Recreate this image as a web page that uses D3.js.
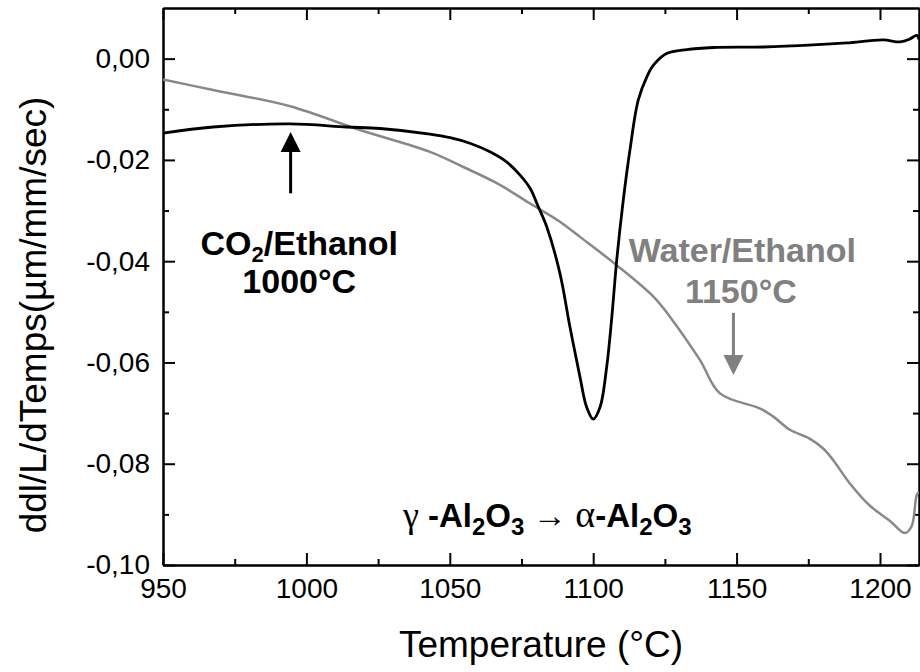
<!DOCTYPE html>
<html>
<head>
<meta charset="utf-8">
<script src="https://cdn.jsdelivr.net/npm/d3@7"></script>
<style>
  body { margin: 0; background: #fff; }
  text { font-family: "Liberation Sans", Arial, sans-serif; }
</style>
</head>
<body>
<div id="chart"></div>
<script>
// CO2/Ethanol run (black)
const co2Temp = [950, 967.5, 994.3, 1014, 1025.7, 1043.1, 1050.1, 1057, 1064, 1069.8, 1074.5, 1078, 1080.9, 1083.8, 1088.4, 1091.9, 1095.4, 1097.7, 1100, 1102.4, 1104.7, 1106.5, 1108.2, 1110.5, 1112.8, 1115.7, 1118.7, 1121, 1125.6, 1132.6, 1141.9, 1159.3, 1176.7, 1188.4, 1201.1, 1207, 1210.5, 1212.8, 1213.6];
const co2Val = [-0.0147, -0.0135, -0.0129, -0.0135, -0.0138, -0.0149, -0.0156, -0.0167, -0.0184, -0.0204, -0.0230, -0.0256, -0.0293, -0.0332, -0.0424, -0.0530, -0.0629, -0.0688, -0.0712, -0.0688, -0.0609, -0.0510, -0.0398, -0.0279, -0.0181, -0.0082, -0.0036, -0.0013, 0.0010, 0.0018, 0.0022, 0.0023, 0.0027, 0.0031, 0.0037, 0.0033, 0.0039, 0.0046, 0.0038];

// Water/Ethanol run (grey)
const waterTemp = [950, 967.5, 994.3, 1018.7, 1043.1, 1054.7, 1066.4, 1078, 1088.4, 1095.4, 1108.2, 1121, 1126.8, 1137.2, 1144.2, 1158.2, 1162.8, 1168.6, 1175.3, 1180.2, 1183.7, 1189.5, 1196.5, 1203.5, 1208.6, 1211, 1212.8, 1213.6];
const waterVal = [-0.0041, -0.0062, -0.0094, -0.0141, -0.0184, -0.0214, -0.0246, -0.0286, -0.0322, -0.0352, -0.0408, -0.0470, -0.0510, -0.0595, -0.0661, -0.0691, -0.0707, -0.0733, -0.0750, -0.0770, -0.0793, -0.0839, -0.0883, -0.0913, -0.0937, -0.0924, -0.0862, -0.0855];

const xTicks = [950, 1000, 1050, 1100, 1150, 1200];
const xMinor = [975, 1025, 1075, 1125, 1175];
const yTicks = [-0.10, -0.08, -0.06, -0.04, -0.02, 0.00];
const yMinor = [-0.09, -0.07, -0.05, -0.03, -0.01];

const width = 920, height = 672;
const margin = {left: 163, right: 1, top: 8, bottom: 107};

const svg = d3.select("#chart").append("svg")
    .attr("width", width)
    .attr("height", height);

const x = d3.scaleLinear().domain([950, 1213.6]).range([margin.left, width - margin.right]);
const y = d3.scaleLinear().domain([-0.10, 0.01]).range([height - margin.bottom, margin.top]);

const fr = d3.formatLocale({decimal: ",", thousands: ".", grouping: [3], currency: ["", ""], minus: "-"});
const yFmt = fr.format(".2f");

function styleAxis(sel) {
    sel.select(".domain").attr("stroke", "#000").attr("stroke-width", 2);
    sel.selectAll(".tick line").attr("stroke", "#000").attr("stroke-width", 2);
    sel.selectAll(".tick text")
        .attr("fill", "#000")
        .style("font-size", "28px")
        .style("font-family", "'Liberation Sans', Arial, sans-serif");
}

const plotBottom = height - margin.bottom;
const plotRight = width - margin.right;

// bottom axis
svg.append("g")
    .attr("transform", `translate(0,${plotBottom})`)
    .call(d3.axisBottom(x).tickValues(xTicks).tickSizeInner(-12).tickSizeOuter(0).tickPadding(13).tickFormat(d3.format("d")))
    .call(styleAxis);
svg.append("g")
    .attr("transform", `translate(0,${plotBottom})`)
    .call(d3.axisBottom(x).tickValues(xMinor).tickSizeInner(-6).tickSizeOuter(0).tickFormat(""))
    .call(styleAxis);

// top axis
svg.append("g")
    .attr("transform", `translate(0,${margin.top})`)
    .call(d3.axisTop(x).tickValues(xTicks).tickSizeInner(-12).tickSizeOuter(0).tickFormat(""))
    .call(styleAxis);
svg.append("g")
    .attr("transform", `translate(0,${margin.top})`)
    .call(d3.axisTop(x).tickValues(xMinor).tickSizeInner(-6).tickSizeOuter(0).tickFormat(""))
    .call(styleAxis);

// left axis
svg.append("g")
    .attr("transform", `translate(${margin.left},0)`)
    .call(d3.axisLeft(y).tickValues(yTicks).tickSizeInner(-12).tickSizeOuter(0).tickPadding(13).tickFormat(yFmt))
    .call(styleAxis);
svg.append("g")
    .attr("transform", `translate(${margin.left},0)`)
    .call(d3.axisLeft(y).tickValues(yMinor).tickSizeInner(-6).tickSizeOuter(0).tickFormat(""))
    .call(styleAxis);

// right axis
svg.append("g")
    .attr("transform", `translate(${plotRight},0)`)
    .call(d3.axisRight(y).tickValues(yTicks).tickSizeInner(-12).tickSizeOuter(0).tickFormat(""))
    .call(styleAxis);
svg.append("g")
    .attr("transform", `translate(${plotRight},0)`)
    .call(d3.axisRight(y).tickValues(yMinor).tickSizeInner(-6).tickSizeOuter(0).tickFormat(""))
    .call(styleAxis);

// curves
const line = d3.line()
    .x(d => x(d[0]))
    .y(d => y(d[1]))
    .curve(d3.curveCatmullRom.alpha(0.5));

svg.append("clipPath").attr("id", "plot-clip")
    .append("rect")
    .attr("x", margin.left).attr("y", margin.top)
    .attr("width", plotRight - margin.left)
    .attr("height", plotBottom - margin.top);

svg.append("path")
    .datum(d3.zip(waterTemp, waterVal))
    .attr("clip-path", "url(#plot-clip)")
    .attr("fill", "none")
    .attr("stroke", "#888888")
    .attr("stroke-width", 2.5)
    .attr("d", line);

svg.append("path")
    .datum(d3.zip(co2Temp, co2Val))
    .attr("clip-path", "url(#plot-clip)")
    .attr("fill", "none")
    .attr("stroke", "#000")
    .attr("stroke-width", 2.8)
    .attr("d", line);

// arrows (shaft start, tip)
const arrowTemp = [994.5, 1148.9];
const arrowFrom = [-0.0266, -0.0502];
const arrowTo = [-0.0145, -0.0625];
const arrowColor = ["#000", "#808080"];

arrowTemp.forEach((t, i) => {
    const ax = x(t), y0 = y(arrowFrom[i]), y1 = y(arrowTo[i]);
    const dir = y1 < y0 ? 1 : -1;
    const head = 20;
    svg.append("line")
        .attr("x1", ax).attr("x2", ax)
        .attr("y1", y0).attr("y2", y1 + dir * head)
        .attr("stroke", arrowColor[i])
        .attr("stroke-width", 3);
    svg.append("path")
        .attr("d", `M${ax},${y1} L${ax - 10},${y1 + dir * head} L${ax + 10},${y1 + dir * head} Z`)
        .attr("fill", arrowColor[i]);
});

// annotations
const co2Label = svg.append("text")
    .attr("x", x(997.5)).attr("y", 255)
    .attr("text-anchor", "middle")
    .style("font-size", "34px").style("font-weight", "bold").attr("fill", "#000");
co2Label.append("tspan").text("CO");
co2Label.append("tspan").attr("dy", 7).style("font-size", "22px").text("2");
co2Label.append("tspan").attr("dy", -7).text("/Ethanol");

svg.append("text")
    .attr("x", x(997.5)).attr("y", 293)
    .attr("text-anchor", "middle")
    .style("font-size", "34px").style("font-weight", "bold").attr("fill", "#000")
    .text("1000°C");

svg.append("text")
    .attr("x", x(1152)).attr("y", 262)
    .attr("text-anchor", "middle")
    .style("font-size", "34px").style("font-weight", "bold").attr("fill", "#808080")
    .text("Water/Ethanol");

svg.append("text")
    .attr("x", x(1151.5)).attr("y", 303)
    .attr("text-anchor", "middle")
    .style("font-size", "34px").style("font-weight", "bold").attr("fill", "#808080")
    .text("1150°C");

// phase transition label
const sym = "'Liberation Serif', 'Times New Roman', serif";
const phase = svg.append("text")
    .attr("x", 403).attr("y", 527)
    .attr("fill", "#000")
    .style("font-size", "33px");
phase.append("tspan").style("font-family", sym).style("font-size", "36px").text("γ ");
phase.append("tspan").style("font-weight", "bold").text("-Al");
phase.append("tspan").attr("dy", 8).style("font-weight", "bold").style("font-size", "24px").text("2");
phase.append("tspan").attr("dy", -8).style("font-weight", "bold").text("O");
phase.append("tspan").attr("dy", 8).style("font-weight", "bold").style("font-size", "24px").text("3");
phase.append("tspan").attr("dy", -8).style("font-family", sym).style("font-size", "34px").text(" → ");
phase.append("tspan").style("font-family", sym).style("font-size", "38px").text("α");
phase.append("tspan").style("font-weight", "bold").text("-Al");
phase.append("tspan").attr("dy", 8).style("font-weight", "bold").style("font-size", "24px").text("2");
phase.append("tspan").attr("dy", -8).style("font-weight", "bold").text("O");
phase.append("tspan").attr("dy", 8).style("font-weight", "bold").style("font-size", "24px").text("3");

// axis titles
svg.append("text")
    .attr("x", 541).attr("y", 657)
    .attr("text-anchor", "middle")
    .style("font-size", "37px").attr("fill", "#000")
    .text("Temperature (°C)");

svg.append("text")
    .attr("transform", "translate(46,315) rotate(-90)")
    .attr("text-anchor", "middle")
    .style("font-size", "37px").attr("fill", "#000")
    .text("ddl/L/dTemps(µm/mm/sec)");
</script>
</body>
</html>
